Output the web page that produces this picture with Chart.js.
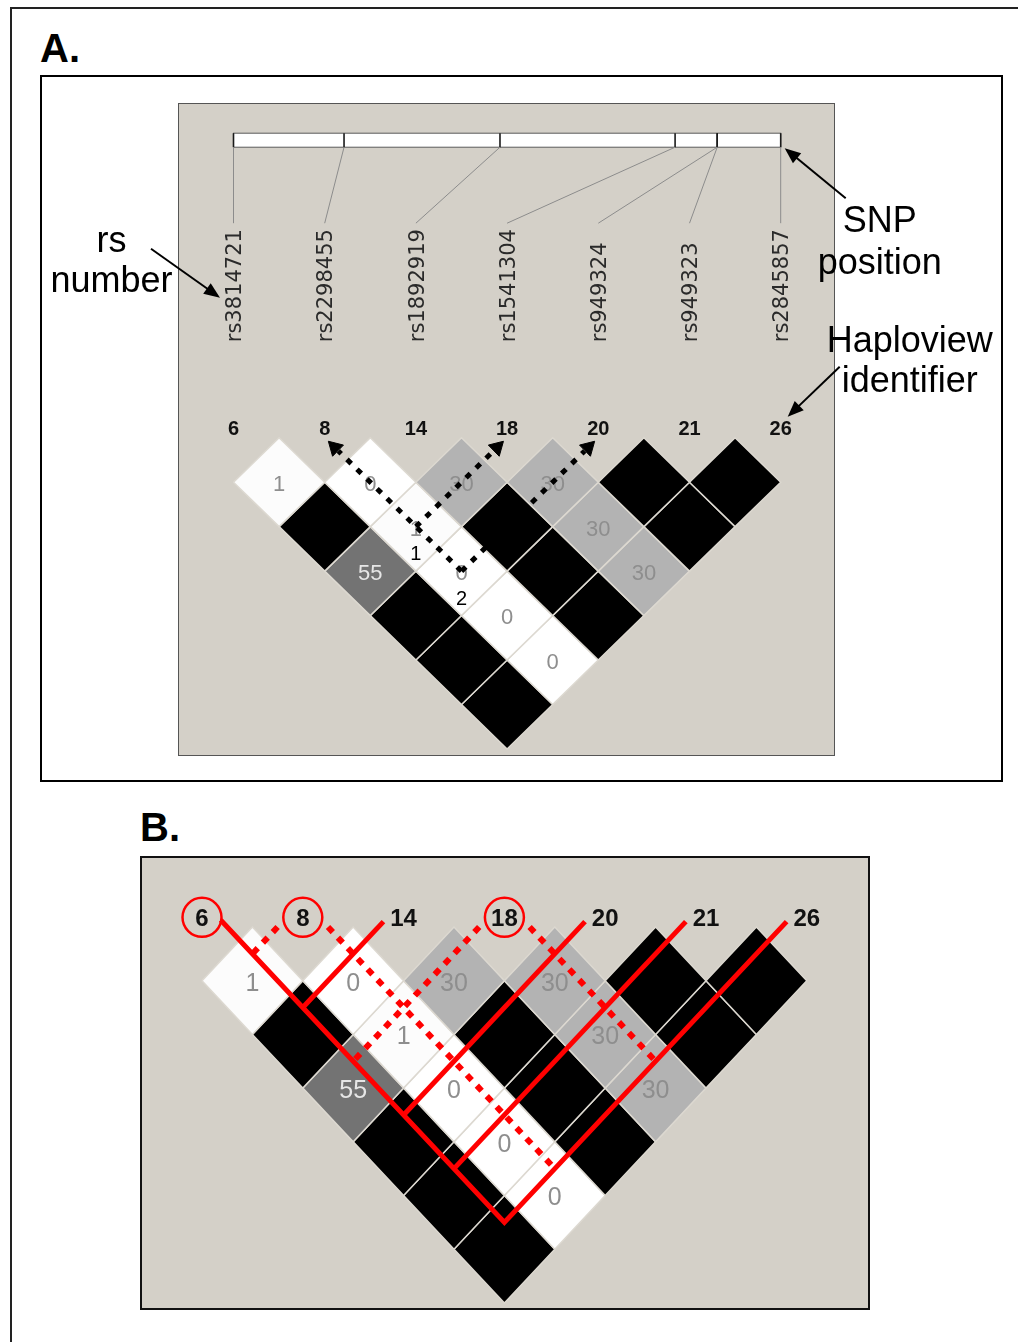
<!DOCTYPE html>
<html>
<head>
<meta charset="utf-8">
<title>Haploview LD plot</title>
<script src="https://cdn.jsdelivr.net/npm/chart.js@4.4.1/dist/chart.umd.min.js"></script>
<style>
  html, body { margin: 0; padding: 0; background: #fff; }
  body { position: relative; width: 1018px; height: 1342px; overflow: hidden; font-family: "Liberation Sans", Arial, sans-serif; }
  .box { position: absolute; box-sizing: border-box; }
  .plabel { position: absolute; font-weight: bold; font-size: 40px; line-height: 40px; color: #000; }
</style>
</head>
<body>
<div class="box" style="left:10px;top:7px;width:1100px;height:1400px;border-left:2px solid #222;border-top:2px solid #222;"></div>
<div class="plabel" style="left:40px;top:28px;">A.</div>
<div class="box" style="left:40px;top:75px;width:963px;height:707px;border:2px solid #000;"></div>
<div class="box" style="left:178px;top:103px;width:657px;height:653px;background:#d4d0c8;border:1px solid #555;"></div>
<div class="box" style="left:40px;top:76px;width:962px;height:705px;"><canvas id="chartA"></canvas></div>
<div class="plabel" style="left:140px;top:807px;">B.</div>
<div class="box" style="left:140px;top:856px;width:730px;height:454px;background:#d4d0c8;border:2px solid #111;"></div>
<div class="box" style="left:141px;top:857px;width:728px;height:452px;"><canvas id="chartB"></canvas></div>
<script>
var snpIds = ['6', '8', '14', '18', '20', '21', '26'];
var rsNumbers = ['rs3814721', 'rs2298455', 'rs1892919', 'rs1541304', 'rs949324', 'rs949323', 'rs2845857'];
// where each SNP sits along the region (0 = first SNP, 1 = last SNP)
var snpRelPos = [0, 0.202, 0.487, 0.807, 0.884, 0.884, 1];

// LD (r2 x 100) of the pairs (i, i+d), one array per distance d
var ldDist1 = [1, 0, 30, 30, 100, 100];
var ldDist2 = [100, 1, 100, 30, 100];
var ldDist3 = [55, 0, 100, 30];
var ldDist4 = [100, 0, 100];
var ldDist5 = [100, 0];
var ldDist6 = [100];
var ldRows = [ldDist1, ldDist2, ldDist3, ldDist4, ldDist5, ldDist6];

// panel A: dotted traces [snp a, snp b, snp pointed at], and the numbered cells
var traceArrows = [[1, 4, 1], [1, 3, 3], [1, 4, 4]];
var traceCells = [[1, 3], [1, 4]];
var traceNotes = ['1', '2'];

// panel B: red block boundaries
var circledSnps = [0, 1, 3];
var solidSnps = [2, 4, 5];
var dottedSnps = [1, 3];

var FONT = '"Liberation Sans", Arial, sans-serif';

var panelA = {left: 40, top: 76, width: 962, height: 705, x0: 233.5, sx: 91.2, y0: 437.7, sy: 44.47,
  labelY: -0.22, idSize: 20, cellSize: 22};
var panelB = {left: 141, top: 857, width: 728, height: 452, x0: 202, sx: 100.8, y0: 927, sy: 53.7,
  labelY: -0.18, idSize: 24, cellSize: 25};

function scalesFor(g) {
  var xmin = (g.left - g.x0) / g.sx;
  var ymin = (g.top - g.y0) / g.sy;
  return {
    x: {type: 'linear', display: false, bounds: 'data', min: xmin, max: xmin + g.width / g.sx},
    y: {type: 'linear', display: false, bounds: 'data', reverse: true, min: ymin, max: ymin + g.height / g.sy}
  };
}

function cellDatasets() {
  var sets = [];
  ldRows.forEach(function (row, r) {
    var d = r + 1;
    row.forEach(function (v, i) {
      var cx = i + d / 2;
      var shade = Math.round(255 * (1 - v / 100));
      sets.push({
        data: [{x: cx - 0.5, y: d}, {x: cx, y: d - 1}, {x: cx + 0.5, y: d}, {x: cx, y: d + 1}, {x: cx - 0.5, y: d}],
        backgroundColor: 'rgb(' + shade + ',' + shade + ',' + shade + ')',
        borderColor: '#dcd8d0',
        borderWidth: 1.5,
        borderJoinStyle: 'miter',
        fill: 'shape',
        order: 3,
        ldValue: v,
        cellCenter: {x: cx, y: d}
      });
    });
  });
  return sets;
}

function centeredText(ctx, str, x, yMid, size) {
  ctx.textAlign = 'center';
  ctx.textBaseline = 'alphabetic';
  ctx.fillText(str, x, yMid + 0.358 * size);
}

function ldPlugin(g, extra) {
  return {
    id: 'ldDecor',
    beforeDatasetsDraw: function (chart) {
      var ctx = chart.ctx;
      ctx.save();
      if (extra.before) extra.before(chart);
      ctx.fillStyle = '#111';
      ctx.font = 'bold ' + g.idSize + 'px ' + FONT;
      snpIds.forEach(function (id, k) {
        centeredText(ctx, id, chart.scales.x.getPixelForValue(k), chart.scales.y.getPixelForValue(g.labelY), g.idSize);
      });
      ctx.restore();
    },
    afterDatasetDraw: function (chart, args) {
      var ds = chart.data.datasets[args.index];
      if (ds.ldValue === undefined || ds.ldValue >= 100) return;
      var ctx = chart.ctx;
      ctx.save();
      ctx.font = g.cellSize + 'px ' + FONT;
      ctx.fillStyle = ds.ldValue >= 50 ? '#e6e6e6' : '#8e8e8e';
      centeredText(ctx, String(ds.ldValue), chart.scales.x.getPixelForValue(ds.cellCenter.x),
        chart.scales.y.getPixelForValue(ds.cellCenter.y) + 1, g.cellSize);
      ctx.restore();
    },
    afterDraw: function (chart) {
      if (extra.after) {
        chart.ctx.save();
        extra.after(chart);
        chart.ctx.restore();
      }
    }
  };
}

function baseConfig(g, datasets, plugin) {
  return {
    type: 'line',
    data: {datasets: datasets},
    options: {
      responsive: true,
      maintainAspectRatio: false,
      animation: false,
      events: [],
      layout: {padding: 0, autoPadding: false},
      elements: {point: {radius: 0}, line: {tension: 0}},
      plugins: {legend: {display: false}, tooltip: {enabled: false}},
      scales: scalesFor(g)
    },
    plugins: [plugin]
  };
}

// ---------- panel A ----------
function traceDatasets(g) {
  var sets = [], tips = [], rot = [];
  var along = Math.sqrt(Math.pow(g.sx / 2, 2) + g.sy * g.sy);
  traceArrows.forEach(function (t) {
    var cx = (t[0] + t[1]) / 2, d = t[1] - t[0], k = t[2];
    var at = function (y) { return {x: k + (cx - k) * y / d, y: y}; };
    sets.push({data: [at(d), at(0.3)], borderColor: '#000', borderWidth: 5, borderDash: [6, 8], fill: false, order: 1});
    tips.push(at(0.08 + 9 / along));
    rot.push(Math.atan2((k > cx ? 1 : -1) * g.sx / 2, g.sy) * 180 / Math.PI);
  });
  sets.push({data: tips, showLine: false, pointStyle: 'triangle', pointRadius: 9, pointRotation: rot,
    pointBackgroundColor: '#000', pointBorderColor: '#000', pointBorderWidth: 1, order: 0});
  return sets;
}

function callout(ctx, x1, y1, x2, y2) {
  var a = Math.atan2(y2 - y1, x2 - x1), c = Math.cos(a), s = Math.sin(a);
  ctx.beginPath();
  ctx.moveTo(x1, y1);
  ctx.lineTo(x2 - 12 * c, y2 - 12 * s);
  ctx.stroke();
  ctx.beginPath();
  ctx.moveTo(x2, y2);
  ctx.lineTo(x2 - 16 * c + 6.5 * s, y2 - 16 * s - 6.5 * c);
  ctx.lineTo(x2 - 16 * c - 6.5 * s, y2 - 16 * s + 6.5 * c);
  ctx.closePath();
  ctx.fill();
}

function drawPositionBar(chart) {
  var ctx = chart.ctx;
  var xs = function (v) { return chart.scales.x.getPixelForValue(v); };
  var y0 = chart.scales.y.getPixelForValue(0);
  var n = snpIds.length - 1;
  var barTop = y0 - 304.5, barBot = y0 - 290.5, linkEnd = y0 - 214.5, rsBase = y0 - 95.5;
  ctx.fillStyle = '#fff';
  ctx.fillRect(xs(0), barTop, xs(n) - xs(0), barBot - barTop);
  ctx.strokeStyle = '#5a5a5a';
  ctx.lineWidth = 1;
  ctx.strokeRect(xs(0), barTop, xs(n) - xs(0), barBot - barTop);
  ctx.strokeStyle = '#1a1a1a';
  ctx.lineWidth = 1.6;
  snpRelPos.forEach(function (p) {
    ctx.beginPath();
    ctx.moveTo(xs(p * n), barTop);
    ctx.lineTo(xs(p * n), barBot);
    ctx.stroke();
  });
  ctx.strokeStyle = '#8c8c8c';
  ctx.lineWidth = 1;
  snpRelPos.forEach(function (p, i) {
    ctx.beginPath();
    ctx.moveTo(xs(p * n), barBot);
    ctx.lineTo(xs(i), linkEnd);
    ctx.stroke();
  });
  ctx.fillStyle = '#2a2a2a';
  ctx.font = '21px "DejaVu Sans", sans-serif';
  ctx.textAlign = 'left';
  ctx.textBaseline = 'alphabetic';
  rsNumbers.forEach(function (rs, i) {
    ctx.save();
    ctx.translate(xs(i), rsBase);
    ctx.rotate(-Math.PI / 2);
    ctx.fillText(rs, 0, 7.6);
    ctx.restore();
  });
}

function drawCalloutsA(chart) {
  var ctx = chart.ctx;
  var xs = function (v) { return chart.scales.x.getPixelForValue(v); };
  var ys = function (v) { return chart.scales.y.getPixelForValue(v); };
  var n = snpIds.length - 1;
  var y0 = ys(0), xFirst = xs(0), xLast = xs(n), barBot = y0 - 290.5;

  ctx.fillStyle = '#000';
  ctx.font = '20px ' + FONT;
  traceCells.forEach(function (c, t) {
    centeredText(ctx, traceNotes[t], xs((c[0] + c[1]) / 2), ys(c[1] - c[0] + 0.59), 20);
  });

  ctx.strokeStyle = '#000';
  ctx.lineWidth = 2;
  ctx.font = '36px ' + FONT;
  ctx.textAlign = 'center';
  ctx.textBaseline = 'alphabetic';

  var tip = [xFirst - 13.5, y0 - 140];
  callout(ctx, tip[0] - 69, tip[1] - 49, tip[0], tip[1]);
  ctx.fillText('rs', xFirst - 122, y0 - 186);
  ctx.fillText('number', xFirst - 122, y0 - 146);

  tip = [xLast + 4, barBot + 1];
  callout(ctx, tip[0] + 61, tip[1] + 50, tip[0], tip[1]);
  ctx.fillText('SNP', xLast + 99, barBot + 85);
  ctx.fillText('position', xLast + 99, barBot + 127);

  tip = [xLast + 7, y0 - 21];
  callout(ctx, tip[0] + 52, tip[1] - 50, tip[0], tip[1]);
  ctx.fillText('Haploview', xLast + 129, y0 - 86);
  ctx.fillText('identifier', xLast + 129, y0 - 46);
}

new Chart(document.getElementById('chartA'),
  baseConfig(panelA, cellDatasets().concat(traceDatasets(panelA)),
    ldPlugin(panelA, {before: drawPositionBar, after: drawCalloutsA})));

// ---------- panel B ----------
function boundaryDatasets(g) {
  var last = snpIds.length - 1;
  var on = function (k, s, y) { return {x: k + s * (y + 0.5) / 2, y: y}; };
  var solid = {borderColor: '#ff0000', borderWidth: 5, borderJoinStyle: 'miter', fill: false, order: 1};
  var dotted = {borderColor: '#ff0000', borderWidth: 6, borderDash: [7, 7.5], fill: false, order: 2};
  var sets = [];
  sets.push(Object.assign({data: [on(0, 1, -0.13), {x: last / 2, y: last - 0.5}, on(last, -1, -0.1)]}, solid));
  solidSnps.forEach(function (k) {
    sets.push(Object.assign({data: [on(k, -1, -0.1), {x: k / 2, y: k - 0.5}]}, solid));
  });
  dottedSnps.forEach(function (k) {
    sets.push(Object.assign({data: [on(k, -1, 0), {x: k / 2, y: k - 0.5}]}, dotted));
    sets.push(Object.assign({data: [on(k, 1, 0), {x: (k + last) / 2, y: last - k - 0.5}]}, dotted));
  });
  sets.push({
    data: circledSnps.map(function (k) { return {x: k, y: g.labelY}; }),
    showLine: false, pointStyle: 'circle', pointRadius: 19.5, pointBorderWidth: 2.5,
    pointBorderColor: '#ff0000', pointBackgroundColor: 'rgba(0,0,0,0)', order: 0
  });
  return sets;
}

new Chart(document.getElementById('chartB'),
  baseConfig(panelB, cellDatasets().concat(boundaryDatasets(panelB)), ldPlugin(panelB, {})));
</script>
</body>
</html>
